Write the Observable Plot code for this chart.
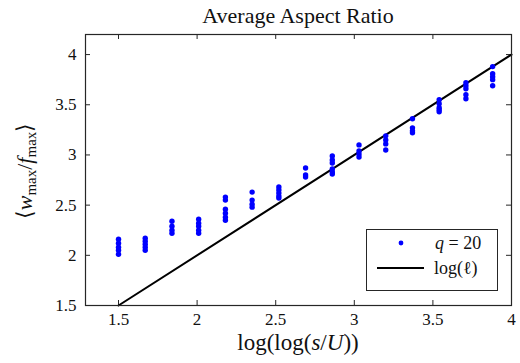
<!DOCTYPE html>
<html><head><meta charset="utf-8">
<script src="https://cdn.jsdelivr.net/npm/d3@7"></script>
<script src="https://cdn.jsdelivr.net/npm/@observablehq/plot@0.6"></script>
<style>body{margin:0;background:#fff}</style>
</head><body><div id="chart"></div>
<script>
// x positions of the q = 20 columns: log(log(s/U))
const columnX = [1.5, 1.67, 1.84, 2.01, 2.18, 2.35, 2.52, 2.69, 2.86, 3.03, 3.20, 3.37, 3.54, 3.71, 3.88];
// <w_max / f_max> values in each column
const col01 = [2.16, 2.12, 2.08, 2.05, 2.01];
const col02 = [2.17, 2.14, 2.11, 2.08, 2.05];
const col03 = [2.34, 2.29, 2.25, 2.22];
const col04 = [2.36, 2.32, 2.29, 2.25, 2.22];
const col05 = [2.58, 2.55, 2.46, 2.42, 2.38, 2.35];
const col06 = [2.63, 2.55, 2.51, 2.48];
const col07 = [2.68, 2.65, 2.62, 2.59, 2.57];
const col08 = [2.87, 2.80, 2.78];
const col09 = [2.99, 2.95, 2.92, 2.86, 2.83, 2.81];
const col10 = [3.10, 3.04, 3.01, 2.98];
const col11 = [3.19, 3.15, 3.11, 3.05];
const col12 = [3.36, 3.27, 3.24, 3.22];
const col13 = [3.55, 3.51, 3.47, 3.45, 3.43];
const col14 = [3.72, 3.69, 3.66, 3.60, 3.56];
const col15 = [3.88, 3.81, 3.78, 3.75, 3.69];
const columnsY = [col01, col02, col03, col04, col05, col06, col07, col08, col09, col10, col11, col12, col13, col14, col15];
// reference line log(l): y = x
const refLineX = [1.5, 4];
const refLineY = [1.5, 4];
// tick values
const xTicks = [1.5, 2, 2.5, 3, 3.5, 4];
const yTicks = [1.5, 2, 2.5, 3, 3.5, 4];

const points = columnX.flatMap((x, i) => columnsY[i].map(y => ({x, y})));
const lineRows = refLineX.map((x, i) => ({x, y: refLineY[i]}));

const serif = "Liberation Serif";
const axisColor = "#262626";
const textColor = "#111";

const chart = Plot.plot({
  width: 520, height: 363,
  marginLeft: 85, marginRight: 9, marginTop: 34, marginBottom: 58,
  x: {domain: [1.29, 4]},
  y: {domain: [1.5, 4.2]},
  style: {fontFamily: "Liberation Serif", fontSize: "17px"},
  marks: [
    Plot.tickX(xTicks, {x: d => d, insetTop: 266, stroke: axisColor}),
    Plot.tickX(xTicks, {x: d => d, insetBottom: 266, stroke: axisColor}),
    Plot.tickY(yTicks, {y: d => d, insetRight: 421, stroke: axisColor}),
    Plot.tickY(yTicks, {y: d => d, insetLeft: 421, stroke: axisColor}),
    Plot.axisX(xTicks, {tickSize: 0, tickPadding: 7, label: null, tickFormat: d => String(d), fill: textColor}),
    Plot.axisY(yTicks, {tickSize: 0, tickPadding: 9, label: null, tickFormat: d => String(d), fill: textColor}),
    Plot.line(lineRows, {x: "x", y: "y", stroke: "black", strokeWidth: 2}),
    Plot.dot(points, {x: "x", y: "y", r: 2.7, fill: "#0000ff", stroke: null}),
    Plot.frame({stroke: axisColor, strokeWidth: 1.2})
  ]
});

const svg = d3.select(chart);
// title
svg.append("text").attr("x", 298).attr("y", 23).attr("text-anchor", "middle")
  .attr("font-family", serif).attr("font-size", 22).attr("fill", textColor).text("Average Aspect Ratio");
// x label
const xl = svg.append("text").attr("x", 298).attr("y", 350).attr("text-anchor", "middle")
  .attr("font-family", serif).attr("font-size", 23).attr("fill", textColor);
xl.append("tspan").text("log(log(");
xl.append("tspan").attr("font-style", "italic").text("s");
xl.append("tspan").text("/");
xl.append("tspan").attr("font-style", "italic").text("U");
xl.append("tspan").text("))");
// y label
const yl = svg.append("text").attr("transform", "translate(32,171) rotate(-90)").attr("text-anchor", "middle")
  .attr("font-family", serif).attr("font-size", 22).attr("fill", textColor);
yl.append("tspan").text("⟨");
yl.append("tspan").attr("font-style", "italic").text("w");
yl.append("tspan").attr("font-size", 15).attr("dy", 4).text("max");
yl.append("tspan").attr("dy", -4).text("/");
yl.append("tspan").attr("font-style", "italic").text("f");
yl.append("tspan").attr("font-size", 15).attr("dy", 4).text("max");
yl.append("tspan").attr("dy", -4).text("⟩");
// legend
const lg = svg.append("g").attr("text-anchor", "start");
lg.append("rect").attr("x", 366.5).attr("y", 229.5).attr("width", 131).attr("height", 61)
  .attr("fill", "#fff").attr("stroke", axisColor).attr("stroke-width", 1);
lg.append("circle").attr("cx", 401).attr("cy", 243).attr("r", 2.4).attr("fill", "#0000ff");
const lt1 = lg.append("text").attr("x", 435).attr("y", 249).attr("font-family", serif).attr("font-size", 18).attr("fill", textColor);
lt1.append("tspan").attr("font-style", "italic").text("q");
lt1.append("tspan").text(" = 20");
lg.append("line").attr("x1", 377).attr("x2", 424).attr("y1", 268).attr("y2", 268).attr("stroke", "black").attr("stroke-width", 2);
lg.append("text").attr("x", 434).attr("y", 274).attr("font-family", serif).attr("font-size", 18).attr("fill", textColor).text("log(ℓ)");

document.getElementById("chart").appendChild(chart);
</script>
</body></html>
